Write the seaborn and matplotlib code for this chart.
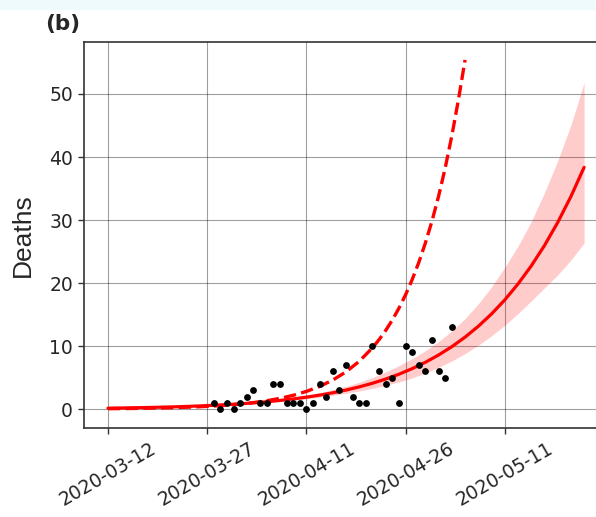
import numpy as np
import pandas as pd
import matplotlib
matplotlib.use("Agg")
import matplotlib.pyplot as plt
import seaborn as sns

# ---- data ----
start_date = "2020-03-12"
obs_days = list(range(16, 53))
obs_deaths = [1, 0, 1, 0, 1, 2, 3, 1, 1, 4, 4, 1, 1, 1, 0, 1, 4, 2, 6, 3,
              7, 2, 1, 1, 10, 6, 4, 5, 1, 10, 9, 7, 6, 11, 6, 5, 13]

fit_days = list(range(0, 73, 2))
fit_mean = [0.150, 0.179, 0.214, 0.255, 0.304, 0.361, 0.429, 0.509, 0.603,
            0.713, 0.842, 0.993, 1.169, 1.375, 1.614, 1.893, 2.216, 2.591,
            3.024, 3.526, 4.104, 4.771, 5.537, 6.418, 7.428, 8.585, 9.908,
            11.42, 13.14, 15.10, 17.32, 19.85, 22.71, 25.94, 29.60, 33.72, 38.36]
fit_upper = [0.17, 0.20, 0.24, 0.29, 0.34, 0.41, 0.48, 0.57, 0.68, 0.80, 0.95,
             1.12, 1.32, 1.57, 1.86, 2.20, 2.60, 3.07, 3.62, 4.26, 5.01, 5.89,
             6.90, 8.00, 9.26, 10.70, 12.40, 14.38, 16.70, 19.39, 22.46, 25.86,
             29.75, 34.32, 39.37, 45.05, 51.79]
fit_lower = [0.133, 0.159, 0.190, 0.226, 0.270, 0.320, 0.380, 0.451, 0.535,
             0.632, 0.747, 0.881, 1.037, 1.207, 1.403, 1.629, 1.888, 2.186,
             2.526, 2.887, 3.293, 3.753, 4.312, 4.949, 5.728, 6.620, 7.640,
             8.806, 10.13, 11.64, 13.29, 15.15, 17.16, 19.22, 21.28, 23.64, 26.36]

alt_days = list(range(0, 41, 2)) + list(range(41, 55))
alt_curve = [0.067, 0.086, 0.110, 0.141, 0.181, 0.233, 0.298, 0.383, 0.491,
             0.629, 0.807, 1.036, 1.328, 1.704, 2.186, 2.804, 3.596, 4.613,
             5.917, 7.590, 9.736, 11.03, 12.49, 14.14, 16.02, 18.14, 20.55,
             23.27, 26.36, 29.85, 33.81, 38.29, 43.37, 49.12, 55.4]

xtick_labels = ["2020-03-12", "2020-03-27", "2020-04-11", "2020-04-26", "2020-05-11"]
ytick_values = [0, 10, 20, 30, 40, 50]

# ---- frames ----
t0 = pd.Timestamp(start_date)
obs = pd.DataFrame({"date": t0 + pd.to_timedelta(obs_days, unit="D"), "deaths": obs_deaths})
fit = pd.DataFrame({"date": t0 + pd.to_timedelta(fit_days, unit="D"), "mean": fit_mean,
                    "upper": fit_upper, "lower": fit_lower})
alt = pd.DataFrame({"date": t0 + pd.to_timedelta(alt_days, unit="D"), "value": alt_curve})

sns.set_style("ticks")
plt.rcParams["font.family"] = ["DejaVu Sans"]

W, H = 596, 517
fig = plt.figure(figsize=(W / 100, H / 100), dpi=100)
fig.patches.append(plt.Rectangle((0, 1 - 9 / H), 1, 9 / H, transform=fig.transFigure,
                                 color="#eefafc", zorder=0))

left_px, right_px, top_px, bottom_px = 84.2, 607.9, 42.3, 427.7
ax = fig.add_axes([left_px / W, 1 - bottom_px / H, (right_px - left_px) / W,
                   (bottom_px - top_px) / H])

ax.fill_between(fit["date"], fit["lower"], fit["upper"], color="red", alpha=0.2,
                linewidth=0, zorder=2)
sns.lineplot(data=fit, x="date", y="mean", color="red", linewidth=2.3, ax=ax, zorder=3)
sns.lineplot(data=alt, x="date", y="value", color="red", linewidth=2.4,
             linestyle="--", ax=ax, zorder=3)
sns.scatterplot(data=obs, x="date", y="deaths", color="black", s=24, linewidth=0,
                ax=ax, zorder=4)

ax.set_xlim(t0 - pd.Timedelta(days=3.6), t0 + pd.Timedelta(days=75.6))
ax.set_ylim(-2.95, 58.2)
ax.set_xticks(pd.to_datetime(xtick_labels))
ax.set_xticklabels(xtick_labels, rotation=30, ha="center", fontsize=13.5)
ax.set_yticks(ytick_values)
ax.set_yticklabels([str(v) for v in ytick_values], fontsize=13.5)
ax.tick_params(axis="both", length=4.5, width=1, color="#333333", pad=3.5)

ax.grid(True, color="black", alpha=0.38, linewidth=0.8)
ax.set_axisbelow(True)
for s in ax.spines.values():
    s.set_color("#333333")
    s.set_linewidth(1.2)

ax.set_xlabel("")
ax.set_ylabel("Deaths", fontsize=19, family=["Liberation Sans", "DejaVu Sans"])
ax.yaxis.set_label_coords(-0.094, 0.5)

fig.text(45 / W, 1 - 24 / H, "(b)", fontsize=15.5, fontweight="bold", va="center", ha="left")

fig.savefig("out.png", dpi=100)
